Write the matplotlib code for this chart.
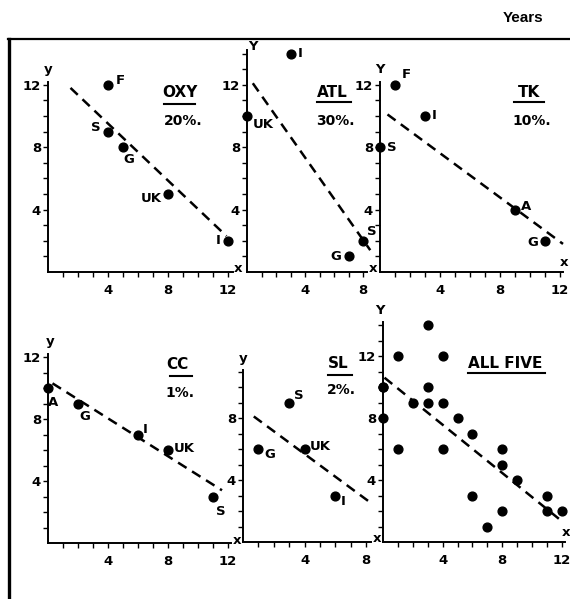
import numpy as np
import matplotlib
matplotlib.use('Agg')
import matplotlib.pyplot as plt
from matplotlib.lines import Line2D

plt.rcParams['font.family'] = ['Liberation Sans Narrow', 'DejaVu Sans']
plt.rcParams['font.weight'] = 'bold'

# data: x = years, y = years, one point per country
oxy_names = ['F', 'S', 'G', 'UK', 'I']
oxy_x = [4, 4, 5, 8, 12]
oxy_y = [12, 9, 8, 5, 2]

atl_names = ['I', 'UK', 'G', 'S']
atl_x = [3, 0, 7, 8]
atl_y = [14, 10, 1, 2]

tk_names = ['F', 'I', 'S', 'A', 'G']
tk_x = [1, 3, 0, 9, 11]
tk_y = [12, 10, 8, 4, 2]

cc_names = ['A', 'G', 'I', 'UK', 'S']
cc_x = [0, 2, 6, 8, 11]
cc_y = [10, 9, 7, 6, 3]

sl_names = ['S', 'G', 'UK', 'I']
sl_x = [3, 1, 4, 6]
sl_y = [9, 6, 6, 3]

# dashed fit lines (end points)
oxy_fit_x, oxy_fit_y = [1.5, 11.9], [11.8, 2.3]
atl_fit_x, atl_fit_y = [0.4, 8.5], [12.1, 1.4]
tk_fit_x, tk_fit_y = [0.5, 12.2], [10.1, 1.8]
cc_fit_x, cc_fit_y = [0.3, 11.6], [10.3, 3.4]
sl_fit_x, sl_fit_y = [0.7, 8.4], [8.1, 2.45]
all_fit_x, all_fit_y = [0.1, 11.8], [10.6, 1.5]

panel_titles = ['OXY', 'ATL', 'TK', 'CC', 'SL', 'ALL FIVE']
panel_shares = ['20%.', '30%.', '10%.', '1%.', '2%.', None]

W, H = 570, 599
fig = plt.figure(figsize=(W / 100, H / 100), dpi=100)

# outer frame
fig.add_artist(Line2D([8 / W, 1.0], [1 - 39 / H, 1 - 39 / H], color='black', lw=1.6))
fig.add_artist(Line2D([9 / W, 9 / W], [1 - 39 / H, 0.0], color='black', lw=2.4))
fig.text(523 / W, 1 - 18 / H, 'Years', family='Liberation Sans', fontsize=11,
         fontweight='bold', ha='center', va='center')


def make_ax(ox, oy, sx, sy, xmax, ymax):
    ax = fig.add_axes([ox / W, 1 - oy / H, xmax * sx / W, ymax * sy / H])
    ax.set_xlim(0, xmax)
    ax.set_ylim(0, ymax)
    ax.patch.set_visible(False)
    for s in ['top', 'right']:
        ax.spines[s].set_visible(False)
    for s in ['left', 'bottom']:
        ax.spines[s].set_linewidth(1.4)
    xt = np.arange(1, int(xmax) + 1)
    yt = np.arange(1, int(ymax) + 1)
    ax.set_xticks(xt)
    ax.set_yticks(yt)
    ax.set_xticklabels([str(v) if v % 4 == 0 else '' for v in xt])
    ax.set_yticklabels([str(v) if v % 4 == 0 else '' for v in yt])
    ax.tick_params(direction='out', length=3.5, width=1.0, labelsize=9.5)
    ax.tick_params(axis='x', pad=5)
    ax.tick_params(axis='y', pad=1.5)
    return ax


def draw(ax, xs, ys, names, offs, fx, fy):
    ax.plot(fx, fy, color='black', lw=1.8, dashes=(4, 2.6), clip_on=False)
    ax.scatter(xs, ys, s=40, color='black', zorder=3, clip_on=False)
    for n, x, y, (dx, dy, ha) in zip(names, xs, ys, offs):
        ax.annotate(n, (x, y), xytext=(dx, dy), textcoords='offset pixels',
                    ha=ha, va='center', fontsize=9.5)


def title(ax, name, share, tx, ty, ux0, ux1, uy, sy):
    ax.text(tx, ty, name, ha='center', va='center', fontsize=11)
    ax.plot([ux0, ux1], [uy, uy], color='black', lw=1.5, clip_on=False)
    if share:
        ax.text(tx + 0.2, sy, share, ha='center', va='center', fontsize=10)


def axis_letters(ax, ylet, yoff, xlet, xoff, xmax, ymax):
    ax.annotate(ylet, (0, ymax), xytext=yoff, textcoords='offset pixels',
                ha='center', va='center', fontsize=9.5, annotation_clip=False)
    ax.annotate(xlet, (xmax, 0), xytext=xoff, textcoords='offset pixels',
                ha='center', va='center', fontsize=9.5, annotation_clip=False)


# OXY
ax1 = make_ax(48, 272, 15, 15.6, 12.3, 12.2)
draw(ax1, oxy_x, oxy_y, oxy_names,
     [(8, 4, 'left'), (-7, 4, 'right'), (6, -12, 'center'), (-6, -4, 'right'), (-7, 0, 'right')],
     oxy_fit_x, oxy_fit_y)
title(ax1, panel_titles[0], panel_shares[0], 8.8, 11.5, 7.7, 9.8, 10.8, 9.7)
axis_letters(ax1, 'y', (0, 12), 'x', (6, 3), 12.3, 12.2)

# ATL
ax2 = make_ax(247, 272, 14.5, 15.6, 8.3, 14.2)
draw(ax2, atl_x, atl_y, atl_names,
     [(7, 0, 'left'), (6, -9, 'left'), (-7, 0, 'right'), (4, 9, 'left')],
     atl_fit_x, atl_fit_y)
title(ax2, panel_titles[1], panel_shares[1], 5.9, 11.5, 4.8, 7.2, 10.9, 9.7)
axis_letters(ax2, 'Y', (6, 4), 'x', (6, 3), 8.3, 14.2)

# TK
ax3 = make_ax(380, 272, 15, 15.6, 12.2, 12.2)
draw(ax3, tk_x, tk_y, tk_names,
     [(7, 10, 'left'), (7, 0, 'left'), (7, 0, 'left'), (6, 3, 'left'), (-7, -2, 'right')],
     tk_fit_x, tk_fit_y)
title(ax3, panel_titles[2], panel_shares[2], 9.9, 11.5, 8.9, 10.9, 10.9, 9.7)
axis_letters(ax3, 'Y', (0, 12), 'x', (1, 9), 12.2, 12.2)

# CC
ax4 = make_ax(48, 543, 15, 15.5, 12.2, 12.2)
draw(ax4, cc_x, cc_y, cc_names,
     [(5, -15, 'center'), (7, -13, 'center'), (5, 5, 'left'), (6, 1, 'left'), (8, -15, 'center')],
     cc_fit_x, cc_fit_y)
title(ax4, panel_titles[3], panel_shares[3], 8.6, 11.5, 8.1, 9.6, 10.8, 9.7)
axis_letters(ax4, 'y', (2, 12), 'x', (6, 3), 12.2, 12.2)

# SL
ax5 = make_ax(243, 542, 15.4, 15.5, 8.3, 11.1)
draw(ax5, sl_x, sl_y, sl_names,
     [(5, 7, 'left'), (6, -5, 'left'), (5, 3, 'left'), (5, -6, 'left')],
     sl_fit_x, sl_fit_y)
title(ax5, panel_titles[4], panel_shares[4], 6.2, 11.5, 5.5, 7.1, 10.8, 9.8)
axis_letters(ax5, 'y', (0, 11), 'x', (6, 3), 8.3, 11.1)

# ALL FIVE
all_x = oxy_x + atl_x + tk_x + cc_x + sl_x
all_y = oxy_y + atl_y + tk_y + cc_y + sl_y
ax6 = make_ax(383, 542, 14.9, 15.5, 12.2, 14.2)
draw(ax6, all_x, all_y, [], [], all_fit_x, all_fit_y)
ax6.text(8.2, 11.5, panel_titles[5], ha='center', va='center', fontsize=11)
ax6.plot([5.7, 10.9], [10.9, 10.9], color='black', lw=1.5, clip_on=False)
axis_letters(ax6, 'Y', (-3, 11), 'x', (1, 9), 12.2, 14.2)

plt.savefig('out.png', dpi=100)
